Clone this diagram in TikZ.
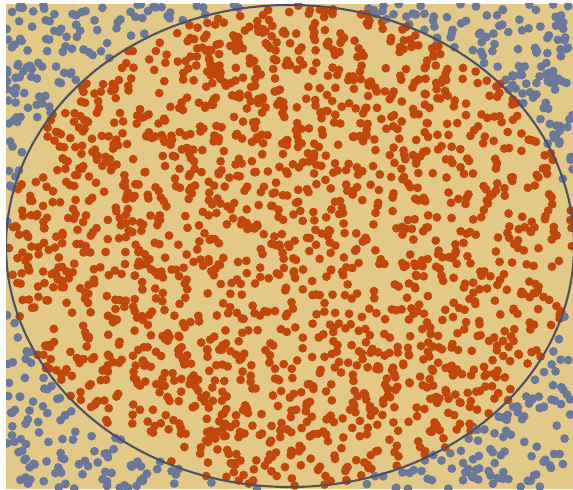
\documentclass[tikz,border=0pt]{standalone}
\definecolor{sandbg}{HTML}{E2C987}
\definecolor{hitdot}{HTML}{C2470C}
\definecolor{missdot}{HTML}{6A7899}
\definecolor{rimgray}{HTML}{505060}

\begin{document}
\begin{tikzpicture}[x=0.02cm,y=-0.02cm,
  hit/.style={fill=hitdot},
  miss/.style={fill=missdot},
  rim/.style={draw=rimgray,line width=1.2pt}]
  \useasboundingbox (0,0) rectangle (573,489);
  \fill[white] (0,0) rectangle (573,489);
  \fill[sandbg] (6,4) rectangle (573,489);
  \pgfmathsetseed{2718}
  \begin{scope}
    \clip (6,4) rectangle (573,489);
    \foreach \i in {1,...,2250} {
      \pgfmathsetmacro{\px}{6+567*rnd}
      \pgfmathsetmacro{\py}{4+485*rnd}
      \pgfmathsetmacro{\q}{((\px-290)/284)^2+((\py-246)/241)^2}
      \ifdim\q pt<1pt
        \path[hit] (\px,\py) circle[radius=4.4];
      \else
        \path[miss] (\px,\py) circle[radius=4.4];
      \fi
    }
    \draw[rim] (290,246) ellipse[x radius=284,y radius=241];
  \end{scope}
\end{tikzpicture}
\end{document}
